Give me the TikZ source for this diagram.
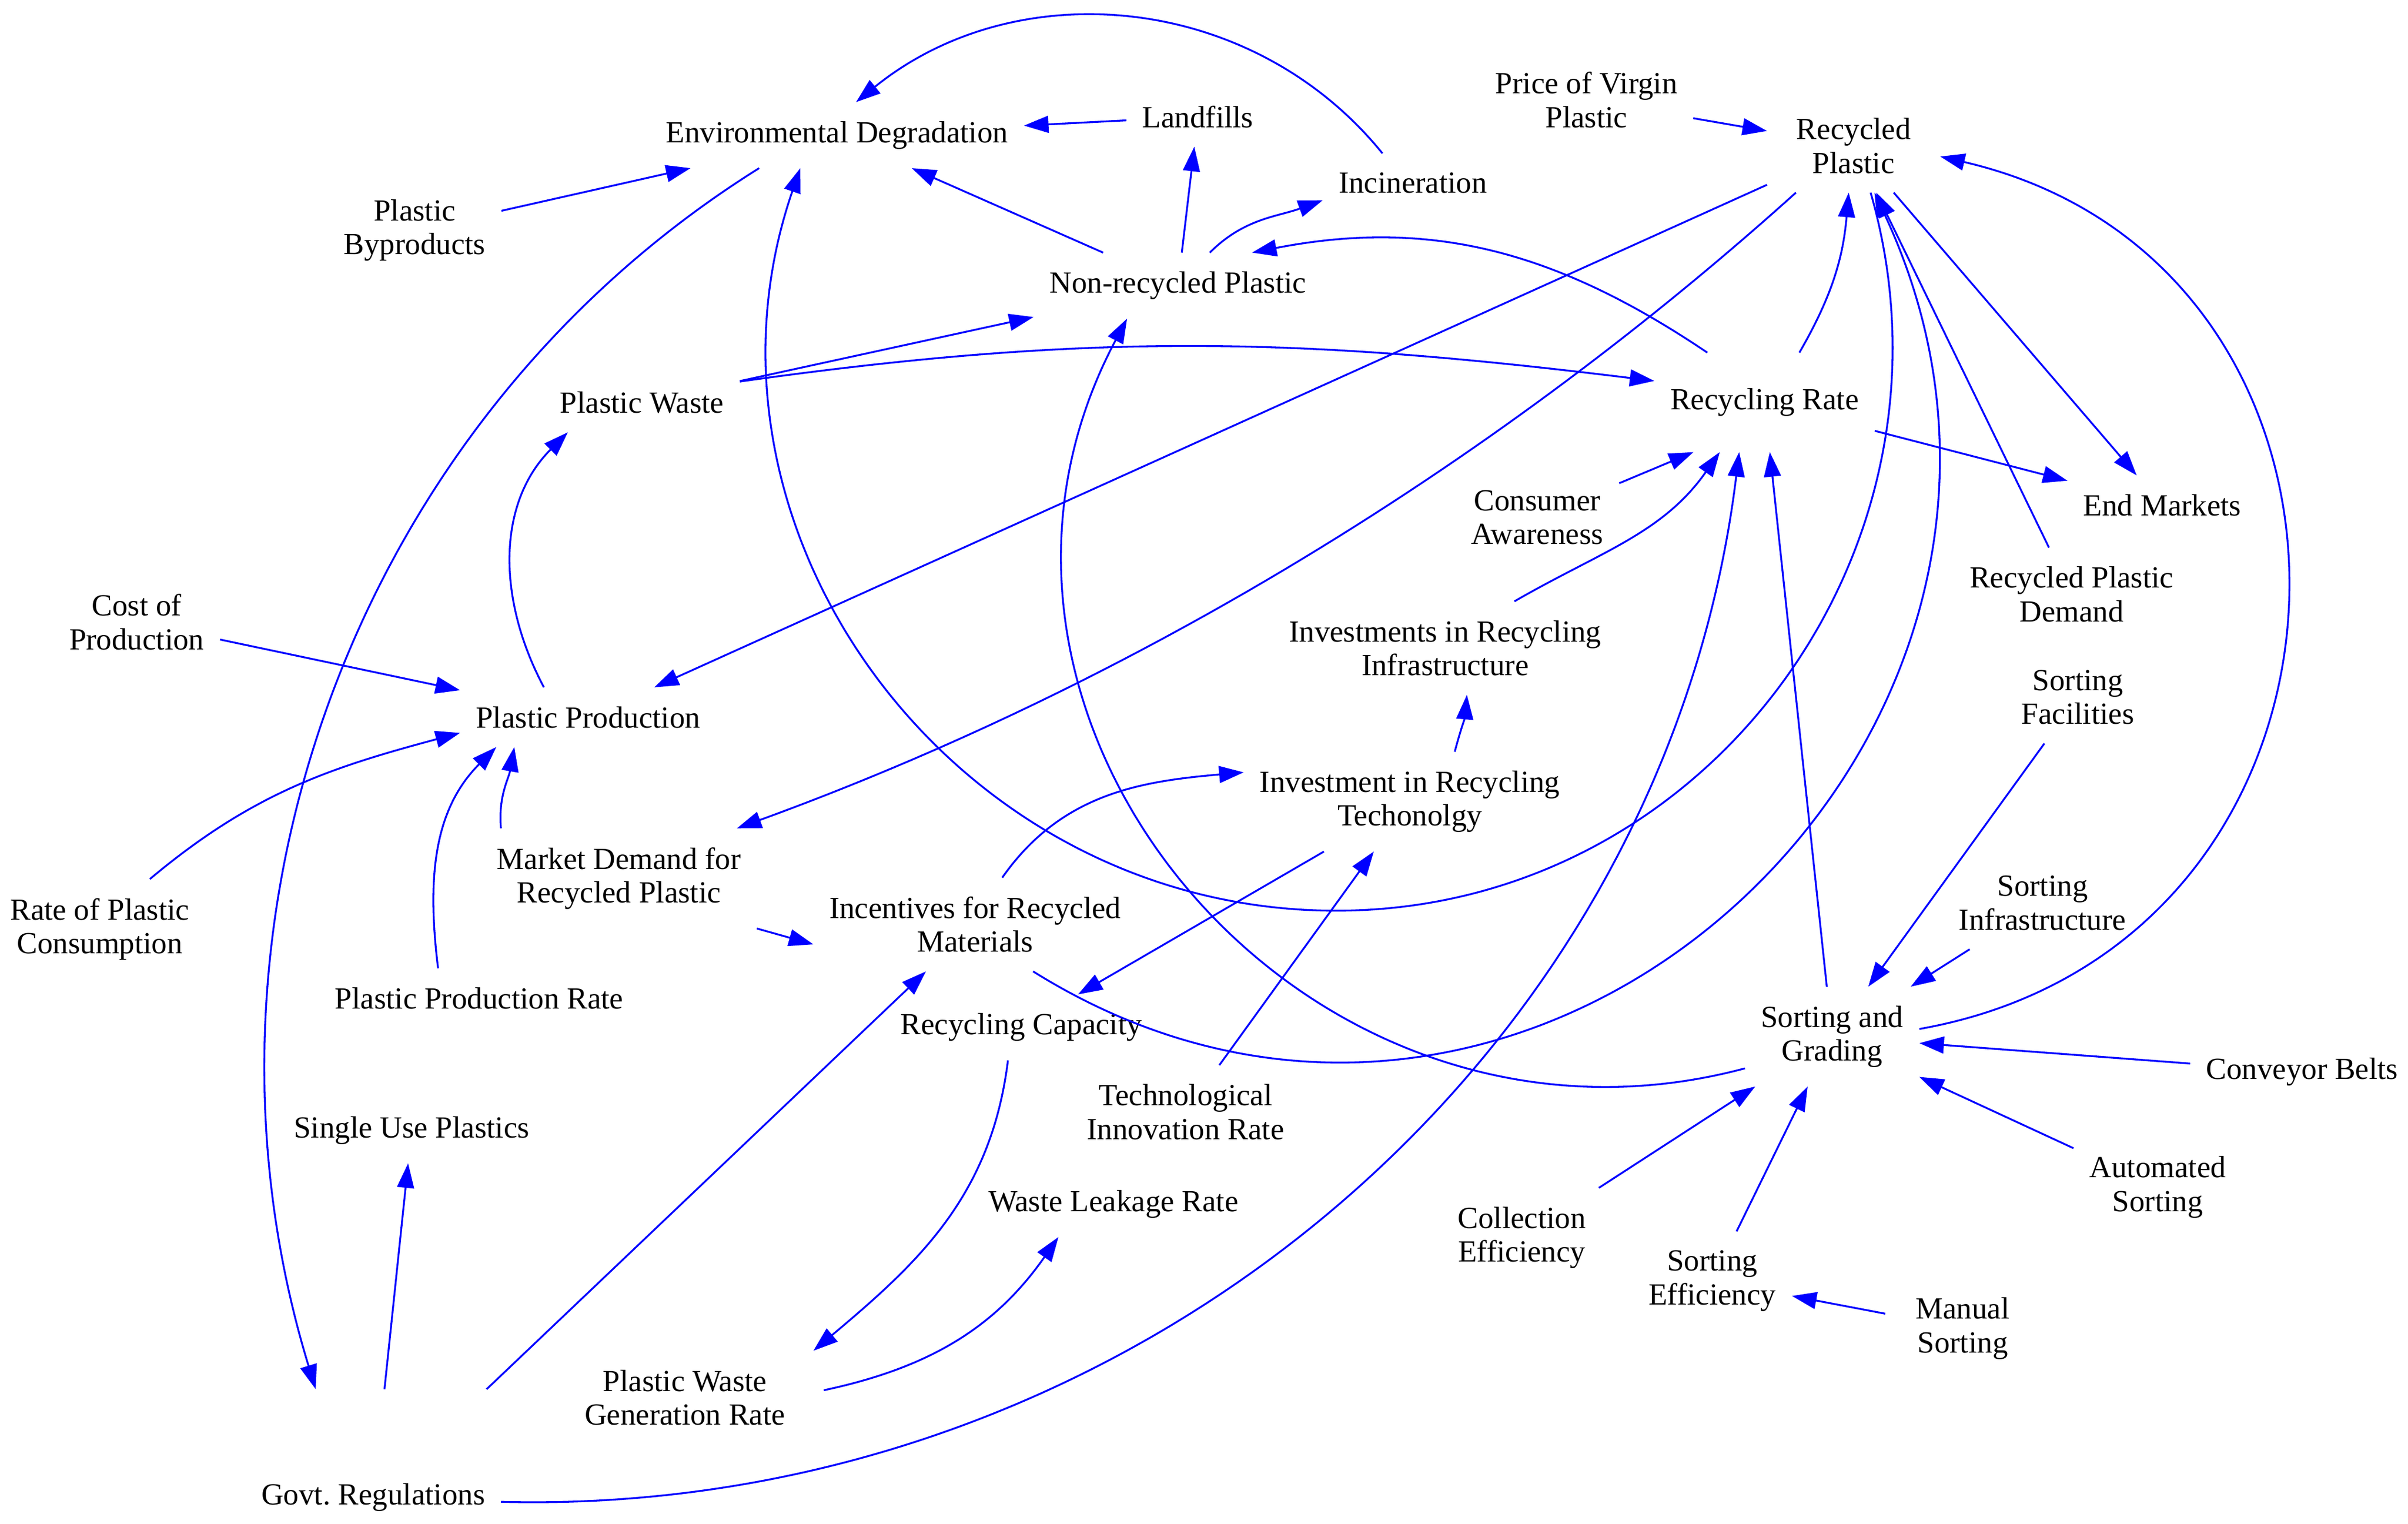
\documentclass[tikz,border=0pt]{standalone}
\usepackage{fontspec}
\setmainfont{Liberation Serif}
\usetikzlibrary{arrows.meta}
\begin{document}
\begin{tikzpicture}[x=0.5pt,y=0.5pt,
    var/.style={align=center,inner xsep=5pt,inner ysep=6pt,font=\fontsize{10}{11}\selectfont},
    lnk/.style={-{Triangle[length=8pt,width=5.5pt]},blue,line width=0.6pt}]
        \useasboundingbox(0,0)rectangle(1568,992);

        \node[var](envdeg)at(545,904){Environmental Degradation};
        \node[var](landfill)at(780,916){Landfills};
        \node[var](incin)at(920,873){Incineration};
        \node[var](nonrec)at(767,806){Non-recycled Plastic};
        \node[var](byprod)at(270,842){Plastic\\Byproducts};
        \node[var](price)at(1033,927){Price of Virgin\\Plastic};
        \node[var,minimum width=56pt](recpl)at(1207,897){Recycled\\Plastic};
        \node[var](waste)at(418,730){Plastic Waste};
        \node[var,minimum height=32pt](recrate)at(1149,730){Recycling Rate};
        \node[var](aware)at(1001,655){Consumer\\Awareness};
        \node[var](endmkt)at(1408,663){End Markets};
        \node[var](demand)at(1349,605){Recycled Plastic\\Demand};
        \node[var](cost)at(89,587){Cost of\\Production};
        \node[var](infra)at(941,570){Investments in Recycling\\Infrastructure};
        \node[var](sortfac)at(1353,538){Sorting\\Facilities};
        \node[var](prod)at(383,525){Plastic Production};
        \node[var](tech)at(918,470){Investment in Recycling\\Techonolgy};
        \node[var](mktdem)at(403,420){Market Demand for\\Recycled Plastic};
        \node[var](consum)at(65,387){Rate of Plastic\\Consumption};
        \node[var](incent)at(635,390){Incentives for Recycled\\Materials};
        \node[var](sortinf)at(1330,404){Sorting\\Infrastructure};
        \node[var](prodrate)at(312,342){Plastic Production Rate};
        \node[var](capac)at(665,323){Recycling Capacity};
        \node[var](sortgr)at(1193,317){Sorting and\\Grading};
        \node[var](conv)at(1499,294){Conveyor Belts};
        \node[var](innov)at(772,268){Technological\\Innovation Rate};
        \node[var](single)at(268,256){Single Use Plastics};
        \node[var](auto)at(1405,219){Automated\\Sorting};
        \node[var](leak)at(725,208){Waste Leakage Rate};
        \node[var](collect)at(991,186){Collection\\Efficiency};
        \node[var](sorteff)at(1115,158){Sorting\\Efficiency};
        \node[var,minimum width=50pt](manual)at(1278,127){Manual\\Sorting};
        \node[var,minimum width=90pt](genrate)at(446,82){Plastic Waste\\Generation Rate};
        \node[var,minimum height=70pt](govt)at(243,17){Govt.\ Regulations};
        \coordinate(lowarc)at(870,399);

        \draw[lnk](landfill)--(envdeg);
        \draw[lnk](byprod)--(envdeg);
        \draw[lnk](nonrec)--(envdeg);
        \draw[lnk](nonrec)--(landfill);
        \draw[lnk](waste)--(nonrec);
        \draw[lnk](price)--(recpl);
        \draw[lnk](recpl)--(prod);
        \draw[lnk](recpl)--(endmkt);
        \draw[lnk](recrate)--(endmkt);
        \draw[lnk](demand)--(recpl);
        \draw[lnk](sortgr)--(recrate);
        \draw[lnk](sortfac)--(sortgr);
        \draw[lnk](sortinf)--(sortgr);
        \draw[lnk](conv)--(sortgr);
        \draw[lnk](auto)--(sortgr);
        \draw[lnk](collect)--(sortgr);
        \draw[lnk](sorteff)--(sortgr);
        \draw[lnk](manual)--(sorteff);
        \draw[lnk](govt)--(single);
        \draw[lnk](govt)--(incent);
        \draw[lnk](tech)--(capac);
        \draw[lnk](innov)--(tech);
        \draw[lnk](aware)--(recrate.215);
        \draw[lnk](cost)--(prod);
        \draw[lnk](mktdem.south east)--(incent.187);

        \draw[lnk](incin.136)to[out=129,in=39](envdeg.60);
        \draw[lnk](nonrec.46)to[out=45,in=200](incin.191);
        \draw[lnk](waste.12)to[out=8,in=173](recrate.169);
        \draw[lnk](recrate.139)to[out=146,in=11](nonrec.24);
        \draw[lnk](recrate.55)to[out=60,in=-95](recpl.264);
        \draw[lnk](sortgr.5)to[out=10,in=-13,looseness=1.42](recpl.-7);
        \draw[lnk](incent.-39)to[out=-32,in=-65,looseness=1.32](recpl.-66);
        \draw[lnk](recpl.-70)to[out=-74,in=0,looseness=1.06](lowarc)to[out=180,in=-109,looseness=1.07](envdeg.222);
        \draw[lnk](sortgr.200)to[out=-165,in=-118,looseness=1.2](nonrec.213);
        \draw[lnk](envdeg.203)to[out=212,in=107,looseness=0.95](govt.118);
        \draw[lnk](govt.-2)to[out=-1.5,in=-97,looseness=0.98](recrate.243);
        \draw[lnk](prod.146)to[out=118,in=225](waste.202);
        \draw[lnk](prodrate.144)to[out=97,in=225](prod.198);
        \draw[lnk](mktdem.157)to[out=95,in=260](prod.202);
        \draw[lnk](consum.45)to[out=40,in=195](prod.187);
        \draw[lnk](tech.48)to[out=75,in=265](infra.-65);
        \draw[lnk](infra.34)to[out=30,in=235](recrate.228);
        \draw[lnk](incent.60)to[out=55,in=185](tech.170);
        \draw[lnk](capac.248)to[out=-97,in=40](genrate.20);
        \draw[lnk](genrate.3)to[out=12,in=235](leak.211);
        \draw[lnk](recpl.219)to[out=222,in=20,looseness=0.86](mktdem.23);
    \end{tikzpicture}
\end{document}
